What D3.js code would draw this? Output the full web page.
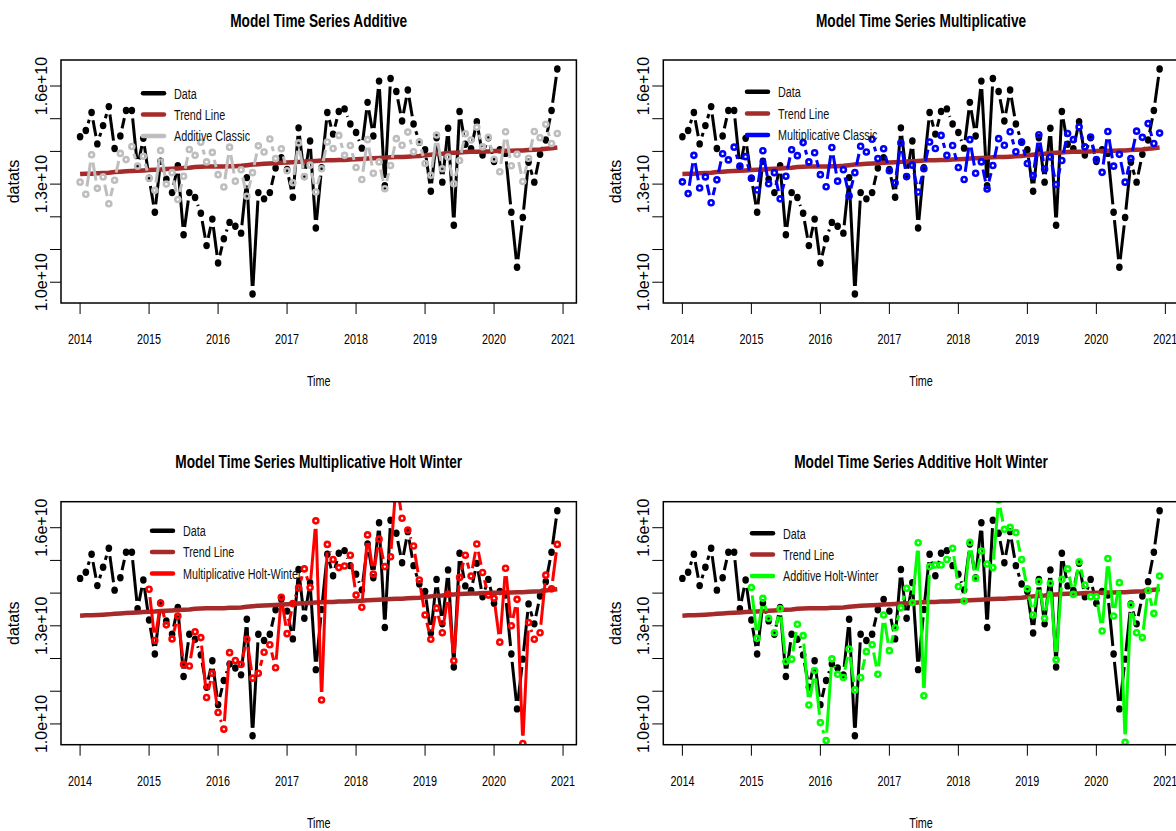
<!DOCTYPE html>
<html><head><meta charset="utf-8">
<script src="https://cdn.jsdelivr.net/npm/d3@7"></script>
<style>body{margin:0;background:#fff} svg{display:block}</style>
</head><body>
<svg id="c" width="1176" height="831"></svg>
<script>
// ---------- DATA (values in units of 1e10) ----------
const startYear = 2014, frequency = 12;
const dataVals = [
 1.445,1.464,1.519,1.423,1.479,1.537,1.409,1.447,1.525,1.525,1.352,1.440,
 1.318,1.214,1.370,1.315,1.274,1.356,1.145,1.274,1.259,1.211,1.112,1.193,
 1.059,1.133,1.183,1.171,1.150,1.320,0.964,1.274,1.255,1.274,1.349,1.381,
 1.345,1.260,1.472,1.323,1.432,1.166,1.350,1.519,1.453,1.522,1.530,1.484,
 1.458,1.410,1.550,1.447,1.615,1.295,1.623,1.583,1.493,1.588,1.484,1.428,
 1.405,1.278,1.442,1.306,1.471,1.174,1.522,1.422,1.408,1.491,1.389,1.442,
 1.369,1.405,1.394,1.214,1.046,1.198,1.367,1.306,1.391,1.435,1.525,1.652];
const trendVals = [
 1.331,1.332,1.332,1.333,1.334,1.335,1.337,1.338,1.339,1.340,1.341,1.342,
 1.343,1.344,1.345,1.346,1.347,1.348,1.349,1.350,1.352,1.353,1.354,1.354,
 1.354,1.354,1.355,1.355,1.356,1.358,1.360,1.361,1.362,1.363,1.364,1.365,
 1.366,1.367,1.368,1.369,1.370,1.371,1.372,1.373,1.373,1.374,1.374,1.375,
 1.376,1.377,1.378,1.379,1.380,1.381,1.382,1.383,1.383,1.384,1.385,1.386,
 1.388,1.390,1.392,1.393,1.395,1.396,1.397,1.398,1.399,1.399,1.400,1.400,
 1.401,1.401,1.402,1.402,1.403,1.403,1.404,1.405,1.406,1.408,1.410,1.412];
const additiveClassic = [
 1.306,1.269,1.390,1.287,1.322,1.240,1.312,1.394,1.375,1.415,1.355,1.385,
 1.318,1.281,1.403,1.300,1.335,1.253,1.324,1.406,1.388,1.428,1.368,1.397,
 1.329,1.291,1.413,1.309,1.344,1.263,1.335,1.417,1.398,1.438,1.378,1.408,
 1.341,1.304,1.426,1.323,1.358,1.276,1.347,1.429,1.409,1.449,1.388,1.418,
 1.351,1.314,1.436,1.333,1.368,1.286,1.357,1.439,1.419,1.459,1.399,1.429,
 1.363,1.327,1.450,1.347,1.383,1.301,1.372,1.454,1.435,1.474,1.414,1.443,
 1.376,1.338,1.460,1.356,1.391,1.308,1.379,1.461,1.442,1.483,1.424,1.455];
const multiplicativeClassic = [
 1.307,1.271,1.388,1.288,1.322,1.243,1.313,1.393,1.374,1.413,1.355,1.384,
 1.318,1.282,1.402,1.301,1.335,1.255,1.324,1.405,1.387,1.427,1.368,1.396,
 1.329,1.292,1.412,1.309,1.344,1.264,1.335,1.416,1.398,1.437,1.378,1.408,
 1.341,1.304,1.426,1.323,1.358,1.276,1.347,1.429,1.409,1.449,1.388,1.418,
 1.351,1.314,1.436,1.333,1.368,1.285,1.357,1.439,1.419,1.460,1.399,1.429,
 1.363,1.326,1.451,1.346,1.383,1.299,1.372,1.455,1.436,1.475,1.414,1.444,
 1.375,1.336,1.461,1.355,1.391,1.306,1.378,1.462,1.443,1.485,1.424,1.456];
const holtWinterStart = 12; // fitted values begin Jan 2015
const multiplicativeHW = [
 1.412,1.255,1.369,1.303,1.260,1.330,1.182,1.177,1.282,1.264,1.081,1.155,
 1.035,0.984,1.218,1.194,1.182,1.259,1.140,1.155,1.219,1.242,1.172,1.387,
 1.276,1.368,1.416,1.474,1.417,1.621,1.073,1.549,1.503,1.478,1.483,1.516,
 1.394,1.357,1.578,1.458,1.565,1.481,1.511,1.745,1.629,1.593,1.544,1.440,
 1.333,1.259,1.354,1.279,1.397,1.193,1.448,1.516,1.452,1.550,1.463,1.394,
 1.384,1.250,1.476,1.300,1.381,0.940,1.310,1.259,1.279,1.455,1.413,1.549];
const additiveHW = [
 1.417,1.262,1.384,1.323,1.279,1.352,1.191,1.198,1.305,1.270,1.058,1.163,
 1.004,0.949,1.199,1.152,1.142,1.229,1.104,1.142,1.221,1.242,1.152,1.333,
 1.224,1.294,1.355,1.415,1.371,1.554,1.086,1.481,1.486,1.486,1.503,1.537,
 1.420,1.376,1.555,1.445,1.529,1.489,1.478,1.685,1.595,1.601,1.585,1.503,
 1.413,1.333,1.435,1.323,1.430,1.196,1.442,1.474,1.396,1.496,1.425,1.389,
 1.389,1.284,1.506,1.330,1.432,0.944,1.364,1.279,1.264,1.408,1.338,1.452];
const xTickYears = [2014,2015,2016,2017,2018,2019,2020,2021];
const yTickVals = [1.0,1.1,1.2,1.3,1.4,1.5,1.6];
const yTickLabels = {"1.0":"1.0e+10","1.3":"1.3e+10","1.6":"1.6e+10"};
const titles = ["Model Time Series Additive","Model Time Series Multiplicative",
  "Model Time Series Multiplicative Holt Winter","Model Time Series Additive Holt Winter"];
const fitLabels = ["Additive Classic","Multiplicative Classic","Multiplicative Holt-Winter","Additive Holt-Winter"];
const legendBase = ["Data","Trend Line"];

// ---------- LAYOUT ----------
const SX = 0.72;            // horizontal condensing of text
const FONT = "'Liberation Sans', Arial, Helvetica, sans-serif";
const colLeft = [61.0, 663.3], rowTop = [60, 501.7], plotW = 515.4, plotH = 243;
const panels = [
 {col:0,row:0,fit:additiveClassic,start:0,color:"#BEBEBE",leg:[143,93.3,21.3]},
 {col:1,row:0,fit:multiplicativeClassic,start:0,color:"#0000FF",leg:[747,91.8,21.6]},
 {col:0,row:1,fit:multiplicativeHW,start:holtWinterStart,color:"#FF0000",leg:[152,530.8,21.3]},
 {col:1,row:1,fit:additiveHW,start:holtWinterStart,color:"#00FF00",leg:[752,533.3,21.3]}
];

const svg = d3.select("#c");
const tAt = i => startYear + i / frequency;
const n = dataVals.length;
const span = tAt(n-1) - tAt(0);
const xDom = [tAt(0) - 0.04*span, tAt(n-1) + 0.04*span];
const dmin = d3.min(dataVals), dmax = d3.max(dataVals);
const yDom = [dmin - 0.04*(dmax-dmin), dmax + 0.04*(dmax-dmin)];

function htext(g, x, y, s, size, weight, anchor, fill){
  g.append("text").attr("transform",`translate(${x},${y}) scale(${SX},1)`)
   .attr("text-anchor",anchor||"middle").attr("font-family",FONT)
   .attr("font-size",size).attr("font-weight",weight||"normal")
   .attr("fill",fill||"#000").text(s);
}
function vtext(g, x, y, s, size){
  g.append("text").attr("transform",`translate(${x},${y}) rotate(-90)`)
   .attr("text-anchor","middle").attr("font-family",FONT)
   .attr("font-size",size).attr("fill","#000").text(s);
}
function drawB(g, pts, color, lw, gap){
  for(let k=0;k<pts.length-1;k++){
    const [x1,y1]=pts[k],[x2,y2]=pts[k+1];
    const dx=x2-x1, dy=y2-y1;
    const L=Math.hypot(dx/SX, dy);
    if(L<=2*gap) continue;
    const t=gap/L;
    g.append("line").attr("x1",x1+dx*t).attr("y1",y1+dy*t)
     .attr("x2",x2-dx*t).attr("y2",y2-dy*t)
     .attr("stroke",color).attr("stroke-width",lw).attr("stroke-linecap","butt");
  }
}

panels.forEach((p,pi)=>{
  const L = colLeft[p.col], T = rowTop[p.row];
  const x = d3.scaleLinear().domain(xDom).range([L, L+plotW]);
  const y = d3.scaleLinear().domain(yDom).range([T+plotH, T]);
  const g = svg.append("g");
  const cid = "clip"+pi;
  svg.append("defs").append("clipPath").attr("id",cid)
    .append("rect").attr("x",L).attr("y",T).attr("width",plotW).attr("height",plotH);
  const pg = g.append("g").attr("clip-path",`url(#${cid})`);

  // data (type b)
  const dpts = dataVals.map((v,i)=>[x(tAt(i)), y(v)]);
  drawB(pg, dpts, "#000", 3, 8);
  pg.selectAll(null).data(dpts).enter().append("ellipse")
    .attr("cx",d=>d[0]).attr("cy",d=>d[1]).attr("rx",3.3).attr("ry",3.7).attr("fill","#000");

  // trend line
  pg.append("path").datum(trendVals.map((v,i)=>[x(tAt(i)), y(v)]))
    .attr("d", d3.line()).attr("fill","none").attr("stroke","#A52A2A")
    .attr("stroke-width",4.5).attr("stroke-linejoin","round");

  // fitted (type b, open circles)
  const fpts = p.fit.map((v,i)=>[x(tAt(i+p.start)), y(v)]);
  drawB(pg, fpts, p.color, 3, 8);
  pg.selectAll(null).data(fpts).enter().append("circle")
    .attr("cx",d=>d[0]).attr("cy",d=>d[1]).attr("r",2.5)
    .attr("fill","none").attr("stroke",p.color).attr("stroke-width",2.6);

  // box
  g.append("rect").attr("x",L).attr("y",T).attr("width",plotW).attr("height",plotH)
    .attr("fill","none").attr("stroke","#000").attr("stroke-width",1.5);

  // x axis
  xTickYears.forEach(yr=>{
    const xx = x(yr);
    g.append("line").attr("x1",xx).attr("x2",xx).attr("y1",T+plotH).attr("y2",T+plotH+11)
      .attr("stroke","#000").attr("stroke-width",1);
    htext(g, xx, T+plotH+41, String(yr), 15);
  });
  // y axis
  yTickVals.forEach(v=>{
    const yy = y(v);
    g.append("line").attr("x1",L-11).attr("x2",L).attr("y1",yy).attr("y2",yy)
      .attr("stroke","#000").attr("stroke-width",1);
    const lab = yTickLabels[v.toFixed(1)];
    if(lab) vtext(g, L-14, yy, lab, 16);
  });
  // labels
  htext(g, L+plotW/2, T-33.3, titles[pi], 19, "bold");
  htext(g, L+plotW/2, T+plotH+83, "Time", 15);
  vtext(g, L-42, T+plotH/2, "datats", 16);

  // legend
  const [lx, ly, lstep] = p.leg;
  const items = [[legendBase[0],"#000"],[legendBase[1],"#A52A2A"],[fitLabels[pi],p.color]];
  items.forEach((it,k)=>{
    const yy = ly + k*lstep;
    g.append("line").attr("x1",lx).attr("x2",lx+21).attr("y1",yy).attr("y2",yy)
      .attr("stroke",it[1]).attr("stroke-width",4.5).attr("stroke-linecap","round");
    htext(g, lx+31, yy+5.3, it[0], 15, "normal", "start", "#111");
  });
});
</script>
</body></html>
